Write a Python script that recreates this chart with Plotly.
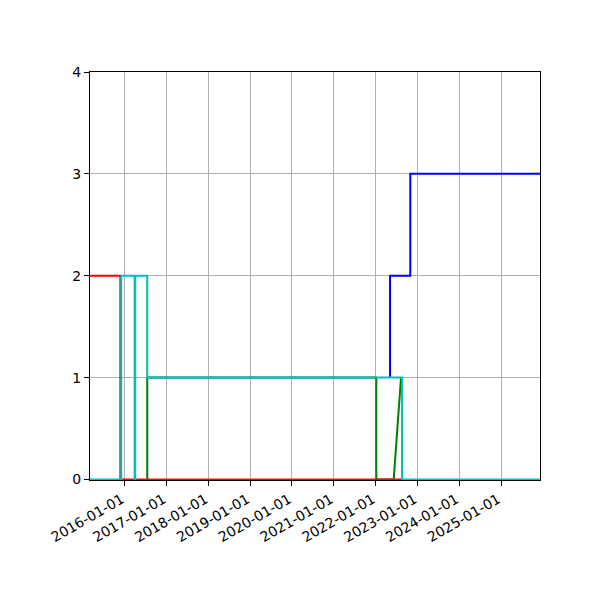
import plotly.graph_objects as go

# data (step series, vertical jumps as repeated dates)
red_dates = ["2015-03-04", "2015-11-24", "2015-11-24", "2022-08-20"]
red_vals = [2, 2, 0, 0]

blue_dates = ["2022-05-07", "2022-05-07", "2022-10-31", "2022-10-31", "2025-12-07"]
blue_vals = [1, 2, 2, 3, 3]

green_dates = ["2016-07-16", "2016-07-16", "2022-01-07", "2022-01-07", "2022-06-08", "2022-08-11"]
green_vals = [0, 1, 1, 0, 0, 1]

cyan_dates = ["2015-03-04", "2015-12-02", "2015-12-02", "2016-03-28", "2016-03-28",
              "2016-04-02", "2016-04-02", "2016-07-16", "2016-07-16", "2022-08-20",
              "2022-08-20", "2025-12-07"]
cyan_vals = [0, 0, 2, 2, 0, 0, 2, 2, 1, 1, 0, 0]

tick_dates = [f"{y}-01-01" for y in range(2016, 2026)]

fig = go.Figure()
# draw order so the overlaps look like the original
fig.add_trace(go.Scatter(x=blue_dates, y=blue_vals, mode="lines", line=dict(color="#0000FF", width=2)))
fig.add_trace(go.Scatter(x=green_dates, y=green_vals, mode="lines", line=dict(color="#008000", width=2)))
fig.add_trace(go.Scatter(x=red_dates, y=red_vals, mode="lines", line=dict(color="#FF0000", width=2)))
fig.add_trace(go.Scatter(x=cyan_dates, y=cyan_vals, mode="lines", line=dict(color="#00BFBF", width=2)))

axis_style = dict(showline=True, linecolor="black", linewidth=1, mirror=True,
                  ticks="outside", ticklen=5, tickcolor="black", layer="below traces",
                  showgrid=True, gridcolor="#b0b0b0", gridwidth=1, zeroline=False,
                  tickfont=dict(family="DejaVu Sans", size=14, color="black"))

fig.update_xaxes(range=["2015-03-04", "2025-12-07"], tickvals=tick_dates, ticktext=tick_dates,
                 tickangle=-30, ticklabelshift=-3, **axis_style)
# tiny negative pad so the lines sitting on 0 stay visible over the bottom spine
fig.update_yaxes(range=[-0.005, 4], tickvals=[0, 1, 2, 3, 4], **axis_style)

# page has an 8px body margin, so shift the plot area up/left
fig.update_layout(width=600, height=600, showlegend=False,
                  plot_bgcolor="white", paper_bgcolor="white",
                  margin=dict(l=82, r=68, t=64, b=128))

fig.write_html("out.html")
